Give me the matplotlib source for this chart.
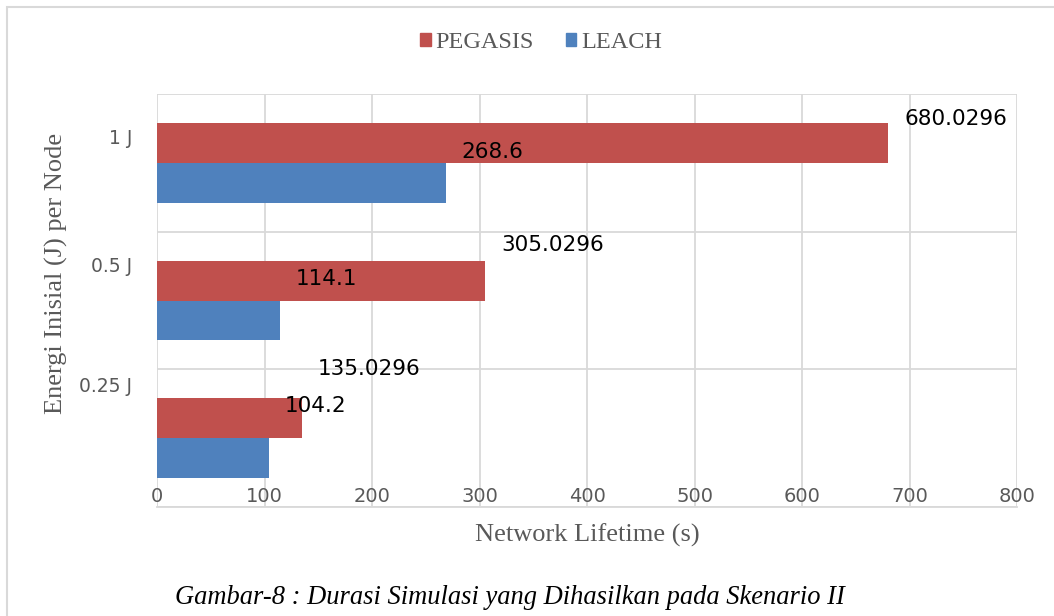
import matplotlib.pyplot as plt
import numpy as np
from matplotlib.patches import Patch, Rectangle
from matplotlib.transforms import ScaledTranslation

categories = ['0.25 J', '0.5 J', '1 J']
pegasis = [135.0296, 305.0296, 680.0296]
leach = [104.2, 114.1, 268.6]
label_pegasis = ['135.0296', '305.0296', '680.0296']
label_leach = ['104.2', '114.1', '268.6']

RED = '#C0504D'
BLUE = '#4F81BD'
GRID = '#D9D9D9'
TXT = '#595959'

fig = plt.figure(figsize=(10.54, 6.16), dpi=100)
ax = fig.add_axes([157 / 1054, 1 - 507 / 616, 860 / 1054, 413 / 616])

y = np.arange(len(categories))
h = 0.29
ax.barh(y + h / 2, pegasis, height=h, color=RED, label='PEGASIS', zorder=3)
ax.barh(y - h / 2, leach, height=h, color=BLUE, label='LEACH', zorder=3)

ax.set_xlim(0, 800)
ax.set_ylim(-0.5, len(categories) - 0.5)
ax.set_xticks(range(0, 801, 100))
ax.set_yticks(y)
ax.set_yticklabels(categories)
ax.set_yticks(np.arange(-0.5, len(categories), 1.0), minor=True)
ax.grid(axis='x', color=GRID, lw=1.3, zorder=0)
ax.grid(axis='y', which='minor', color=GRID, lw=1.3, zorder=0)
ax.tick_params(axis='both', which='both', length=0)
ax.tick_params(axis='x', labelsize=14, labelcolor=TXT, pad=-14.5)
ax.tick_params(axis='y', labelsize=13.5, labelcolor=TXT, pad=18)
for s in ['top', 'right', 'left']:
    ax.spines[s].set_visible(False)
ax.spines['bottom'].set_color(GRID)
ax.spines['bottom'].set_linewidth(1.3)
ax.spines['bottom'].set_zorder(0)

# the category labels sit above their bars in the source picture
tick_lift = [54, 36, 26]
for lab, dy in zip(ax.get_yticklabels(), tick_lift):
    lab.set_transform(lab.get_transform() + ScaledTranslation(0, dy / 100, fig.dpi_scale_trans))

lift_red = [49, 36, 24]
lift_blue = [52, 41, 31]
for i in range(len(categories)):
    ax.annotate(label_pegasis[i], (pegasis[i], y[i] + h / 2), xytext=(16, lift_red[i]),
                textcoords='offset pixels', ha='left', va='center', fontsize=15.5, color='black')
    ax.annotate(label_leach[i], (leach[i], y[i] - h / 2), xytext=(16, lift_blue[i]),
                textcoords='offset pixels', ha='left', va='center', fontsize=15.5, color='black')

serif = 'Liberation Serif'
fig.text(587 / 1054, 1 - 535 / 616, 'Network Lifetime (s)', ha='center', va='center',
         family=serif, fontsize=19, color=TXT)
fig.text(56 / 1054, 1 - 273 / 616, 'Energi Inisial (J) per Node', ha='center', va='center',
         rotation=90, family=serif, fontsize=19, color=TXT)
fig.text(510 / 1054, 1 - 598 / 616, 'Gambar-8 : Durasi Simulasi yang Dihasilkan pada Skenario II',
         ha='center', va='center', family=serif, style='italic', fontsize=19.1, color='black')

handles = [Patch(color=RED, label='PEGASIS'), Patch(color=BLUE, label='LEACH')]
fig.legend(handles=handles, loc='center', bbox_to_anchor=(541 / 1054, 1 - 43 / 616), ncol=2,
           frameon=False, prop={'family': serif, 'size': 17.5}, labelcolor=TXT,
           handlelength=0.45, handleheight=0.45, handletextpad=0.2, columnspacing=1.3)

fig.patches.append(Rectangle((7 / 1054, -0.1), 1.2, 1 - 7 / 616 + 0.1, transform=fig.transFigure,
                             fill=False, edgecolor='#D9D9D9', lw=1.5, clip_on=False))

fig.savefig('out.png', dpi=100)
